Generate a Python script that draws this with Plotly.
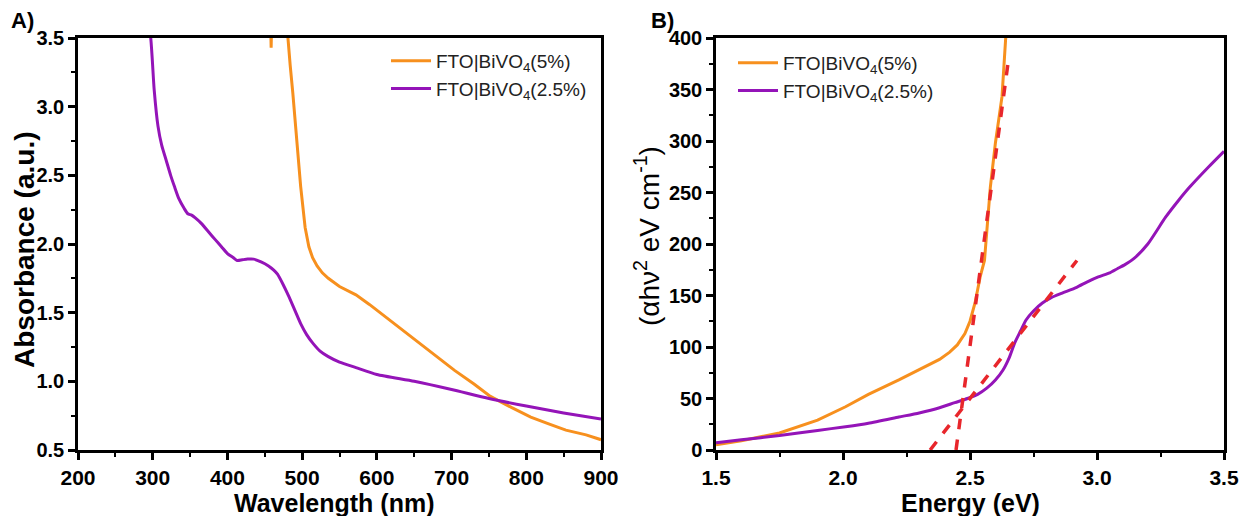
import plotly.graph_objects as go

# ---------------- Data ----------------
# Panel A: absorbance vs wavelength
wl_5 = [440, 455, 457.5, 458.5, 459.5, 462, 475, 479, 481, 484, 487.5, 492, 498, 504, 509, 514,
        520, 527, 535, 550, 572, 590, 609, 630, 652, 680, 704, 730, 752, 780, 806, 830, 853, 880, 900]
abs_5 = [3.9, 3.9, 3.7, 3.43, 3.7, 3.9, 3.9, 3.6, 3.45, 3.3, 3.10, 2.78, 2.42, 2.12, 1.98, 1.90,
         1.84, 1.79, 1.75, 1.69, 1.63, 1.56, 1.48, 1.39, 1.30, 1.18, 1.08, 0.98, 0.89, 0.81, 0.74,
         0.69, 0.645, 0.61, 0.575]

wl_25 = [285, 297, 302, 307, 312, 318, 324, 329, 335, 342, 347, 352, 357, 365, 376, 384, 392, 400,
         408, 413, 420, 427, 435, 445, 455, 462, 467, 475, 482, 490, 498, 506, 514, 524, 535, 550,
         572, 600, 650, 700, 750, 800, 850, 900]
abs_25 = [3.9, 3.52, 3.12, 2.86, 2.72, 2.61, 2.50, 2.42, 2.33, 2.26, 2.22, 2.21, 2.19, 2.15, 2.08,
          2.03, 1.98, 1.93, 1.90, 1.88, 1.885, 1.89, 1.89, 1.87, 1.84, 1.81, 1.78, 1.70, 1.62, 1.52,
          1.42, 1.34, 1.28, 1.22, 1.18, 1.14, 1.10, 1.05, 1.00, 0.94, 0.875, 0.82, 0.77, 0.725]

# Panel B: Tauc plot
E_5 = [1.5, 1.6, 1.75, 1.9, 2.01, 2.1, 2.22, 2.3, 2.38, 2.42, 2.45, 2.48, 2.50, 2.52, 2.54,
       2.557, 2.566, 2.58, 2.60, 2.615, 2.626, 2.64, 2.65]
tauc_5 = [5, 9, 16.5, 29, 42, 54, 68, 78, 88, 95, 102, 113, 125, 143, 168, 184, 211, 255, 298,
          325, 343, 398, 430]

E_25 = [1.5, 1.6, 1.75, 1.9, 2.01, 2.1, 2.22, 2.3, 2.38, 2.44, 2.49, 2.53, 2.566, 2.6, 2.63,
        2.655, 2.676, 2.70, 2.72, 2.75, 2.785, 2.82, 2.863, 2.92, 2.96, 3.005, 3.05, 3.08, 3.11,
        3.146, 3.2, 3.27, 3.32, 3.364, 3.44, 3.5]
tauc_25 = [7, 10, 14, 19, 22.6, 26, 32, 36, 41, 46, 50, 54, 60, 68, 77.7, 90, 104, 116, 126, 135,
           142.7, 148, 152.4, 158, 163, 168, 172, 176, 180, 186, 200, 226, 242, 255, 275, 290]

# Linear fits (tangent lines)
fit_5_E = [2.445, 2.651]
fit_5_v = [0, 378]
fit_25_E = [2.343, 2.921]
fit_25_v = [0, 184]

names = ["FTO|BiVO<sub>4</sub>(5%)", "FTO|BiVO<sub>4</sub>(2.5%)"]

# ---------------- Styling ----------------
ORANGE = "#F7901E"
PURPLE = "#9414B8"
RED = "#E8262B"
FONT = "Liberation Sans"
W, H = 1244, 516

fig = go.Figure()

fig.add_trace(go.Scatter(x=wl_5, y=abs_5, mode="lines", name=names[0],
                         line=dict(color=ORANGE, width=3), xaxis="x", yaxis="y", legend="legend"))
fig.add_trace(go.Scatter(x=wl_25, y=abs_25, mode="lines", name=names[1],
                         line=dict(color=PURPLE, width=3, shape="spline", smoothing=0.6),
                         xaxis="x", yaxis="y", legend="legend"))

fig.add_trace(go.Scatter(x=E_5, y=tauc_5, mode="lines", name=names[0],
                         line=dict(color=ORANGE, width=3), xaxis="x2", yaxis="y2", legend="legend2"))
fig.add_trace(go.Scatter(x=E_25, y=tauc_25, mode="lines", name=names[1],
                         line=dict(color=PURPLE, width=3, shape="spline", smoothing=0.6),
                         xaxis="x2", yaxis="y2", legend="legend2"))
fig.add_trace(go.Scatter(x=fit_5_E, y=fit_5_v, mode="lines", showlegend=False,
                         line=dict(color=RED, width=3.5, dash="dash"), xaxis="x2", yaxis="y2"))
fig.add_trace(go.Scatter(x=fit_25_E, y=fit_25_v, mode="lines", showlegend=False,
                         line=dict(color=RED, width=3.5, dash="dash"), xaxis="x2", yaxis="y2"))

tickfont = dict(family=FONT, size=21, color="black", weight="bold")


def axis(domain, rng, dtick, minor_dtick, fmt, anchor, tfont=tickfont):
    return dict(domain=domain, range=rng, anchor=anchor, dtick=dtick, tick0=rng[0],
                tickformat=fmt, ticks="outside", ticklen=7, tickwidth=2.5, tickcolor="black",
                minor=dict(ticks="outside", ticklen=4, tickwidth=2, tickcolor="black", dtick=minor_dtick),
                showline=True, linewidth=2.5, linecolor="black", mirror=True,
                showgrid=False, zeroline=False, tickfont=tfont, automargin=False)


ytickfont = dict(family=FONT, size=20, color="black", weight="bold")
yd = [66 / H, 478 / H]
fig.update_layout(
    width=W, height=H,
    margin=dict(l=0, r=0, t=0, b=0),
    paper_bgcolor="white", plot_bgcolor="white",
    xaxis=axis([78 / W, 601 / W], [200, 900], 100, 50, "d", "y"),
    yaxis=axis(yd, [0.5, 3.5], 0.5, 0.25, ".1f", "x", ytickfont),
    xaxis2=axis([716 / W, 1224 / W], [1.5, 3.5], 0.5, 0.25, ".1f", "y2"),
    yaxis2=axis(yd, [0, 400], 50, 25, "d", "x2", ytickfont),
    legend=dict(x=386 / W, y=1 - 42 / H, xanchor="left", yanchor="top", bgcolor="rgba(0,0,0,0)",
                font=dict(family=FONT, size=19, color="#222"), tracegroupgap=0, itemwidth=40),
    legend2=dict(x=733 / W, y=1 - 44 / H, xanchor="left", yanchor="top", bgcolor="rgba(0,0,0,0)",
                 font=dict(family=FONT, size=19, color="#222"), tracegroupgap=0, itemwidth=40),
    showlegend=True,
)


def ann(text, x, y, size, bold=True, angle=0):
    fig.add_annotation(text=text, x=x / W, y=1 - y / H, xref="paper", yref="paper",
                       showarrow=False, textangle=angle, xanchor="center", yanchor="middle",
                       font=dict(family=FONT, size=size, color="black",
                                 weight="bold" if bold else "normal"))


ann("A)", 22, 21, 22)
ann("B)", 662, 21, 22)
ann("Wavelength (nm)", 334, 503, 25)
ann("Energy (eV)", 970, 503, 25)
ann("Absorbance (a.u.)", 24, 250, 28, angle=-90)
ann("(αhν<sup>2</sup> eV cm<sup>-1</sup>)", 647, 236, 28, bold=False, angle=-90)

fig.write_html("out.html", config={"displayModeBar": False},
               post_script="document.body.style.margin='0px';document.body.style.overflow='hidden';")
